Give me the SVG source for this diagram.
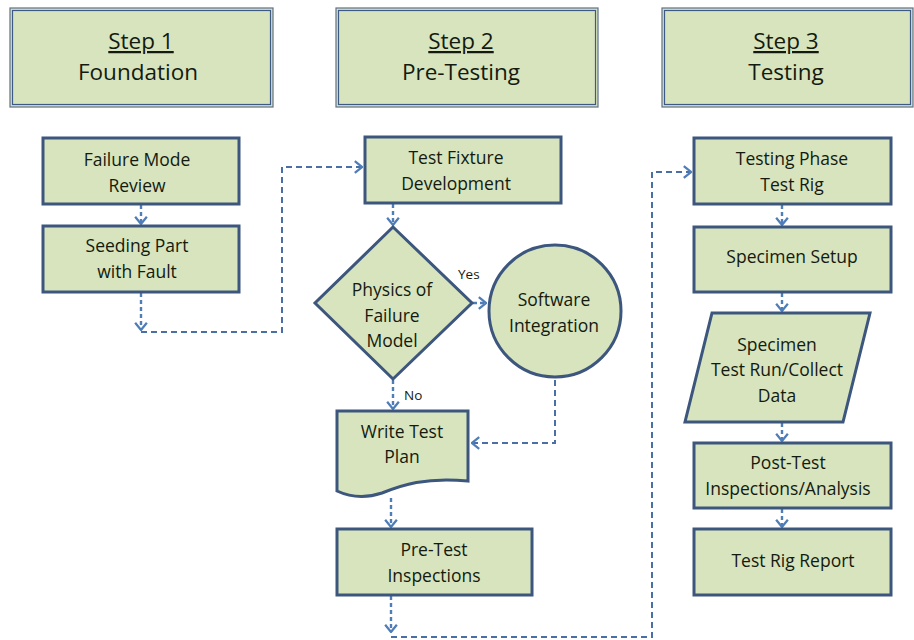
<svg xmlns="http://www.w3.org/2000/svg" width="914" height="640" viewBox="0 0 914 640">
<style>
.hdr{fill:#d7e4bd;stroke:#5d6f8c;stroke-width:1.2}
.hdri{fill:none;stroke:#3d5a86;stroke-width:1.2}
.nd{fill:#d7e4bd;stroke:#3c567e;stroke-width:3}
.ht{font-family:"Open Sans",sans-serif;font-size:22.5px;fill:#141a10;text-anchor:middle}
.t{font-family:"Open Sans",sans-serif;font-size:17.5px;fill:#141a10;text-anchor:middle}
.lb{font-family:"Open Sans",sans-serif;font-size:13.5px;fill:#141a10}
.c{fill:none;stroke:#4a6fa6;stroke-width:2;stroke-dasharray:6,4}
.s{fill:none;stroke:#4f7db8;stroke-width:2.4;stroke-dasharray:4,3}
</style>
<defs>
<marker id="ah" viewBox="0 0 10 16" refX="9" refY="8" markerWidth="9" markerHeight="15" orient="auto" markerUnits="userSpaceOnUse">
<path d="M1,1.5 L9,8 L1,14.5" fill="none" stroke="#4f7db8" stroke-width="2.5"/>
</marker>
</defs>
<rect width="914" height="640" fill="#ffffff"/>

<g id="step1">
<rect class="hdr" x="10" y="8" width="263" height="99"/>
<rect class="hdri" x="12.5" y="10.5" width="258" height="94"/>
<text class="ht" x="141" y="49" text-decoration="underline">Step 1</text>
<text class="ht" x="138" y="80">Foundation</text>
</g>
<g id="step2">
<rect class="hdr" x="336" y="8" width="262" height="99"/>
<rect class="hdri" x="338.5" y="10.5" width="257" height="94"/>
<text class="ht" x="461" y="49" text-decoration="underline">Step 2</text>
<text class="ht" x="461" y="80">Pre-Testing</text>
</g>
<g id="step3">
<rect class="hdr" x="662" y="8" width="251" height="99"/>
<rect class="hdri" x="664.5" y="10.5" width="246" height="94"/>
<text class="ht" x="786" y="49" text-decoration="underline">Step 3</text>
<text class="ht" x="786" y="80">Testing</text>
</g>

<g id="connectors">
<path class="s" d="M141,205 V224" marker-end="url(#ah)"/>
<path class="s" d="M141,293 V330" marker-end="url(#ah)"/>
<path class="c" d="M141,332 H282 V167 H362" marker-end="url(#ah)"/>
<path class="s" d="M393,204 V225" marker-end="url(#ah)"/>
<path class="s" d="M473,303 H486" marker-end="url(#ah)"/>
<path class="s" d="M393,380 V409" marker-end="url(#ah)"/>
<path class="c" d="M555,380 V443 H472" marker-end="url(#ah)"/>
<path class="s" d="M391,498 V527" marker-end="url(#ah)"/>
<path class="s" d="M391,596 V632" marker-end="url(#ah)"/>
<path class="c" d="M391,637 H652 V172 H691" marker-end="url(#ah)"/>
<path class="s" d="M782,205 V225" marker-end="url(#ah)"/>
<path class="s" d="M782,293 V311" marker-end="url(#ah)"/>
<path class="s" d="M782,423 V441" marker-end="url(#ah)"/>
<path class="s" d="M782,509 V527" marker-end="url(#ah)"/>
<text class="lb" x="458" y="279">Yes</text>
<text class="lb" x="404" y="400">No</text>
</g>

<g id="failure-mode-review">
<rect class="nd" x="43" y="138" width="196" height="66"/>
<text class="t" x="137" y="166">Failure Mode</text>
<text class="t" x="137" y="192">Review</text>
</g>
<g id="seeding-part">
<rect class="nd" x="43" y="226" width="196" height="66"/>
<text class="t" x="137" y="252">Seeding Part</text>
<text class="t" x="137" y="278">with Fault</text>
</g>
<g id="test-fixture">
<rect class="nd" x="365" y="137" width="196" height="66"/>
<text class="t" x="456" y="164">Test Fixture</text>
<text class="t" x="456" y="190">Development</text>
</g>
<g id="physics-of-failure">
<polygon class="nd" points="393,227 472,303 393,379 315,303"/>
<text class="t" x="392" y="296">Physics of</text>
<text class="t" x="392" y="322">Failure</text>
<text class="t" x="392" y="347">Model</text>
</g>
<g id="software-integration">
<circle class="nd" cx="555" cy="311" r="66"/>
<text class="t" x="554" y="306">Software</text>
<text class="t" x="554" y="332">Integration</text>
</g>
<g id="write-test-plan">
<path class="nd" d="M337,411 H468 V481 C425,477 402,485 382,493 C364,499 350,497 337,491 Z"/>
<text class="t" x="402" y="438">Write Test</text>
<text class="t" x="402" y="463">Plan</text>
</g>
<g id="pre-test-inspections">
<rect class="nd" x="337" y="529" width="195" height="66"/>
<text class="t" x="434" y="556">Pre-Test</text>
<text class="t" x="434" y="582">Inspections</text>
</g>
<g id="testing-phase">
<rect class="nd" x="694" y="138" width="197" height="66"/>
<text class="t" x="792" y="165">Testing Phase</text>
<text class="t" x="792" y="191">Test Rig</text>
</g>
<g id="specimen-setup">
<rect class="nd" x="694" y="227" width="197" height="65"/>
<text class="t" x="792" y="263">Specimen Setup</text>
</g>
<g id="specimen-test-run">
<polygon class="nd" points="712,313 870,313 843,422 685,422"/>
<text class="t" x="777" y="351">Specimen</text>
<text class="t" x="777" y="376">Test Run/Collect</text>
<text class="t" x="777" y="402">Data</text>
</g>
<g id="post-test">
<rect class="nd" x="694" y="443" width="197" height="65"/>
<text class="t" x="788" y="469">Post-Test</text>
<text class="t" x="788" y="495">Inspections/Analysis</text>
</g>
<g id="test-rig-report">
<rect class="nd" x="694" y="529" width="197" height="66"/>
<text class="t" x="793" y="567">Test Rig Report</text>
</g>
</svg>
